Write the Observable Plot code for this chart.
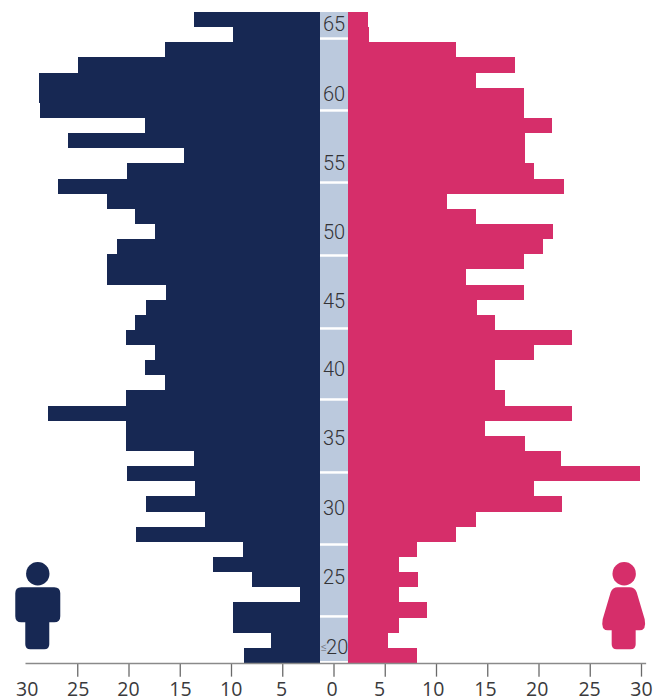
<!DOCTYPE html>
<html>
<head>
<meta charset="utf-8">
<style>html,body{margin:0;padding:0;background:#fff}svg{display:block}</style>
<script src="https://cdn.jsdelivr.net/npm/d3@7"></script>
<script src="https://cdn.jsdelivr.net/npm/@observablehq/plot@0.6"></script>
</head>
<body>
<script>
const men = [13.61,9.80,16.44,24.93,28.73,28.73,28.68,18.39,25.90,14.59,20.18,26.91,22.10,19.37,17.39,21.15,22.10,22.10,16.34,18.29,19.37,20.24,17.39,18.36,16.44,20.24,27.82,20.24,20.24,13.61,20.15,13.51,18.29,12.54,19.27,8.83,11.76,7.95,3.27,9.76,9.80,6.10,8.73];
const women = [3.37,3.46,11.95,17.71,13.90,18.59,18.59,21.32,18.68,18.68,19.56,22.46,11.07,13.90,21.41,20.44,18.59,12.93,18.59,14.00,15.76,23.27,19.53,15.76,15.76,16.73,23.30,14.78,18.68,22.20,29.90,19.56,22.29,13.90,11.95,8.15,6.39,8.24,6.39,9.09,6.39,5.32,8.15];
const ageLabels = ["65","60","55","50","45","40","35","30","25","20"];
const ageLabelRows = [0.82,5.42,9.98,14.53,19.07,23.58,28.14,32.76,37.3,41.93];
const ageLabelX = [0,0,0,0,0,0,0,0,0,0.31];
const separators = [1.72,6.47,11.23,16.05,20.87,25.56,30.38,35.14,39.89,42.92];
const tickValues = [-25,-20,-15,-10,-5,0,5,10,15,20,25,30];
const tickLabels = ["30","25","20","15","10","5","0","5","10","15","20","25","30"];
const tickLabelX = [-29.93,-24.96,-20.05,-14.98,-10.03,-5.12,-0.18,4.44,9.68,14.78,19.82,24.93,30];

const NAVY = "#172853", PINK = "#d62e6a", BAND = "#bbc9dd";
const rows = men.map((m, i) => ({i, m, f: women[i]}));
const axisY = 43, labelY = 44.72, iconRow = 37.07;
const manPath = "M-16,14H17Q23,14 23,20V43Q23,49 17,49H12V71Q12,76 7,76H-7Q-12,76 -12,71V49H-16Q-22,49 -22,43V20Q-22,14 -16,14Z";
const womanPath = "M-6,14H6Q11,14 13,19L21,46Q23,57 16,57H12V71Q12,76 7,76H-7Q-12,76 -12,71V57H-16Q-23,57 -21,46L-13,19Q-11,14 -6,14Z";
const icons = [{x:-28.9, fill:NAVY, d:manPath},{x:28.31, fill:PINK, d:womanPath}];

const bodies = (index, {x, y}) => {
  const g = d3.create("svg:g");
  for (const ic of icons) {
    g.append("path").attr("d", ic.d).attr("fill", ic.fill)
      .attr("transform", `translate(${x(ic.x)},${y(iconRow)})`);
  }
  return g.node();
};

const half = 333.5 / 10.25;
const plot = Plot.plot({
  width: 667, height: 699,
  marginLeft: 0, marginRight: 0, marginTop: 0, marginBottom: 0,
  style: {background: "#fff", overflow: "visible"},
  x: {domain: [-half, half], range: [0, 667], axis: null},
  y: {domain: [0, 43], range: [12, 663], axis: null},
  marks: [
    Plot.rect(rows, {x1: d => -d.m, x2: 0, y1: "i", y2: d => d.i + 1, fill: NAVY, shapeRendering: "crispEdges"}),
    Plot.rect(rows, {x1: 0, x2: "f", y1: "i", y2: d => d.i + 1, fill: PINK, shapeRendering: "crispEdges"}),
    Plot.rect([0], {x1: -1.32, x2: 1.41, y1: 0, y2: 42.92, fill: BAND, shapeRendering: "crispEdges"}),
    Plot.ruleY(separators, {x1: -1.32, x2: 1.41, y: d => d, stroke: "#fff", strokeWidth: 2.5}),
    Plot.text(ageLabels, {
      x: (d, i) => ageLabelX[i], y: (d, i) => ageLabelRows[i], text: d => d,
      fontSize: 20, fontFamily: "Roboto", fontWeight: 300, fill: "#333336", textAnchor: "middle",
      style: "letter-spacing:-0.8px"
    }),
    Plot.text(["≤"], {x: -0.98, y: 41.93, text: d => d, fontSize: 12, fontFamily: "Roboto", fontWeight: 300, fill: "#66686c"}),
    Plot.ruleX(tickValues, {x: d => d, y1: axisY, y2: 43.9, stroke: "#6a6a6a", strokeWidth: 1.3}),
    Plot.ruleY([axisY], {x1: -30.05, x2: 30.5, y: d => d, stroke: "#8a8a8a", strokeWidth: 1.7}),
    Plot.text(tickLabels, {
      x: (d, i) => tickLabelX[i], y: labelY, text: d => d,
      fontSize: 19.5, fontFamily: "Open Sans", fill: "#3a3a3c", textAnchor: "middle"
    }),
    Plot.dot(icons, {x: "x", y: iconRow, r: 11.7, fill: "fill", stroke: null}),
    bodies
  ]
});
document.body.appendChild(plot);
</script>
</body>
</html>
